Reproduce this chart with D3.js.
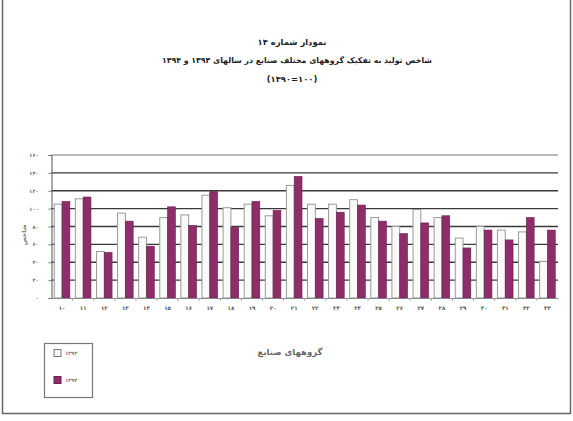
<!DOCTYPE html>
<html><head><meta charset="utf-8">
<script src="https://cdn.jsdelivr.net/npm/d3@7"></script>
<style>body{margin:0;background:#fff}svg{display:block}</style>
</head><body>
<script>
const categories = ["۱۰","۱۱","۱۲","۱۳","۱۴","۱۵","۱۶","۱۷","۱۸","۱۹","۲۰","۲۱","۲۲","۲۳","۲۴","۲۵","۲۶","۲۷","۲۸","۲۹","۳۰","۳۱","۳۲","۳۳"];
const values1393 = [105,111,52,95,68,90,93,115,101,105,92,126,105,105,110,90,80,99,90,67,80,76,74,41];
const values1394 = [108,113,51,86,58,102,81,119,79,108,98,136,89,96,104,86,72,84,92,56,76,65,90,76];
const seriesNames = ["۱۳۹۳","۱۳۹۴"];
const yTicks = [0,20,40,60,80,100,120,140,160];
const titleLines = ["نمودار شماره ۱۳","شاخص تولید به تفکیک گروههای مختلف صنایع در سالهای ۱۳۹۳ و ۱۳۹۴","(۱۰۰=۱۳۹۰)"];
const xTitle = "گروههای صنایع";
const yTitle = "شاخص";

const fa = n => String(n).replace(/\d/g, d => "۰۱۲۳۴۵۶۷۸۹"[d]);
const W = 573, H = 421;
const svg = d3.select("body").append("svg").attr("width", W).attr("height", H);
const font = "DejaVu Sans";

// outer frame
svg.append("path").attr("d", `M2.5,0 V413.5 H570.5 V0`).attr("fill","none").attr("stroke","#666").attr("stroke-width",1.5);

const x0 = 51.5, x1 = 558, yBase = 298, yTop = 155;
const x = d3.scaleBand().domain(categories).range([x0, x1]).paddingInner(0.26).paddingOuter(0.13);
const y = d3.scaleLinear().domain([0,160]).range([yBase, yTop]);

// gridlines
svg.append("g").selectAll("line").data(yTicks.filter(t => t>0)).join("line")
  .attr("x1", x0).attr("x2", x1).attr("y1", d=>y(d)).attr("y2", d=>y(d))
  .attr("stroke", d => d===160 ? "#bbb" : "#3a3a3a").attr("stroke-width", d => d===160 ? 2 : 1.3);

const inner = d3.scaleBand().domain([0,1]).range([0, x.bandwidth()]);
const g = svg.append("g");
g.selectAll("rect.a").data(values1393).join("rect").attr("class","a")
  .attr("x",(d,i)=>x(categories[i])+inner(0)).attr("width",inner.bandwidth())
  .attr("y",d=>y(d)).attr("height",d=>yBase-y(d))
  .attr("fill","#fafafa").attr("stroke","#9a9a9a").attr("stroke-width",1);
g.selectAll("rect.b").data(values1394).join("rect").attr("class","b")
  .attr("x",(d,i)=>x(categories[i])+inner(1)).attr("width",inner.bandwidth())
  .attr("y",d=>y(d)).attr("height",d=>yBase-y(d))
  .attr("fill","#8e2d6a").attr("stroke","#6a1f4e").attr("stroke-width",0.6);

// axes
const yAxis = d3.axisLeft(y).tickValues(yTicks).tickFormat(fa).tickSize(3).tickPadding(10);
const ya = svg.append("g").attr("transform",`translate(${x0},0)`).call(yAxis);
ya.select(".domain").attr("stroke","#555");
ya.selectAll("text").attr("font-family",font).attr("font-size",5).attr("fill","#666").attr("font-weight","bold");
ya.selectAll("line").attr("stroke","#777");

const xAxis = d3.axisBottom(x).tickSize(0).tickPadding(8);
const xa = svg.append("g").attr("transform",`translate(0,${yBase})`).call(xAxis);
xa.select(".domain").attr("stroke","#888");
xa.selectAll("text").attr("font-family",font).attr("font-size",5.5).attr("fill","#555").attr("font-weight","bold");
// category separator ticks
svg.append("g").selectAll("line").data(categories.slice(1)).join("line")
  .attr("x1",d=>x(d)-x.step()*x.paddingInner()/2).attr("x2",d=>x(d)-x.step()*x.paddingInner()/2)
  .attr("y1",yBase).attr("y2",yBase+3).attr("stroke","#aaa");

// titles
const ty = [45, 63, 82];
svg.append("g").selectAll("text").data(titleLines).join("text")
  .attr("x",(d,i)=> i===1 ? 297 : 292).attr("y",(d,i)=>ty[i]).attr("text-anchor","middle").attr("direction","rtl")
  .attr("font-family",font).attr("font-weight","bold").attr("font-size",(d,i)=> i===1 ? 7.8 : 8.4)
  .attr("fill","#222").text(d=>d);

svg.append("text").attr("x",290).attr("y",355).attr("text-anchor","middle").attr("direction","rtl")
  .attr("font-family",font).attr("font-size",8.5).attr("fill","#666").attr("font-weight","bold").text(xTitle);
svg.append("text").attr("transform","translate(26,235) rotate(-90)").attr("text-anchor","middle").attr("direction","rtl")
  .attr("font-family",font).attr("font-size",6).attr("fill","#777").attr("font-weight","bold").text(yTitle);

// legend
const lg = svg.append("g");
lg.append("rect").attr("x",44.5).attr("y",343.5).attr("width",48).attr("height",54).attr("fill","#fff").attr("stroke","#777").attr("stroke-width",1.2);
const lcol = ["#fafafa","#8e2d6a"], lstroke = ["#777","#6a1f4e"], ly = [353, 380];
seriesNames.forEach((s,i)=>{
  lg.append("rect").attr("x",54).attr("y",ly[i]-3.5).attr("width",7).attr("height",7).attr("fill",lcol[i]).attr("stroke",lstroke[i]);
  lg.append("text").attr("x",65).attr("y",ly[i]+1.5).attr("font-family",font).attr("font-size",5).attr("fill","#777").attr("font-weight","bold").text(s);
});
</script>
</body></html>
